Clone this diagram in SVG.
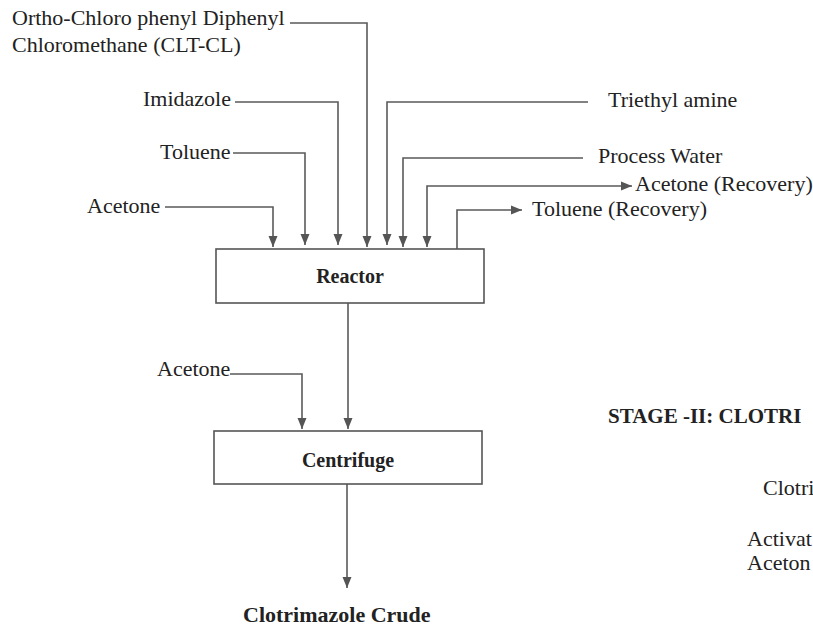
<svg xmlns="http://www.w3.org/2000/svg" width="813" height="630" viewBox="0 0 813 630">
<style>
.t{font-family:'Times New Roman','Liberation Serif',Times,serif;font-size:22px;font-weight:normal;fill:#222}
.b{font-family:'Times New Roman','Liberation Serif',Times,serif;font-weight:bold;fill:#222}
.box{fill:#fff;stroke:#555;stroke-width:1.6}
.c{fill:none;stroke:#5a5a5a;stroke-width:1.6}
</style>
<defs>
<marker id="ah" markerUnits="userSpaceOnUse" markerWidth="12" markerHeight="10" refX="11" refY="5" orient="auto">
<path d="M0,0.5 L11,5 L0,9.5 Z" fill="#555"/>
</marker>
</defs>
<rect width="813" height="630" fill="#fff"/>
<g id="connectors">
<path class="c" d="M165,207 H273 V247" marker-end="url(#ah)"/>
<path class="c" d="M233,153 H305 V245" marker-end="url(#ah)"/>
<path class="c" d="M235,102 H338 V245" marker-end="url(#ah)"/>
<path class="c" d="M290,23 H367 V247" marker-end="url(#ah)"/>
<path class="c" d="M588,102 H387 V245" marker-end="url(#ah)"/>
<path class="c" d="M583,158 H403 V247" marker-end="url(#ah)"/>
<path class="c" d="M427,190 V247" marker-end="url(#ah)"/>
<path class="c" d="M427,190 V186 H632" marker-end="url(#ah)"/>
<path class="c" d="M457,249 V210 H522" marker-end="url(#ah)"/>
<path class="c" d="M348,303 V429" marker-end="url(#ah)"/>
<path class="c" d="M230,374 H302 V429" marker-end="url(#ah)"/>
<path class="c" d="M347,484 V588" marker-end="url(#ah)"/>
</g>
<g id="reactor">
<rect class="box" x="216" y="249" width="268" height="54"/>
<text class="b" x="350" y="283" font-size="20" text-anchor="middle">Reactor</text>
</g>
<g id="centrifuge">
<rect class="box" x="214" y="431" width="268" height="53"/>
<text class="b" x="348" y="467" font-size="20" text-anchor="middle">Centrifuge</text>
</g>
<g id="clt">
<text class="t" x="12" y="25">Ortho-Chloro phenyl Diphenyl</text>
<text class="t" x="12" y="52">Chloromethane (CLT-CL)</text>
</g>
<g id="imidazole"><text class="t" x="143" y="106">Imidazole</text></g>
<g id="triethyl"><text class="t" x="608" y="107">Triethyl amine</text></g>
<g id="toluene"><text class="t" x="160" y="159">Toluene</text></g>
<g id="water"><text class="t" x="598" y="163">Process Water</text></g>
<g id="acetone-rec"><text class="t" x="635" y="191">Acetone (Recovery)</text></g>
<g id="toluene-rec"><text class="t" x="532" y="216">Toluene (Recovery)</text></g>
<g id="acetone1"><text class="t" x="87" y="213">Acetone</text></g>
<g id="acetone2"><text class="t" x="157" y="376">Acetone</text></g>
<g id="crude"><text class="b" x="243" y="622" font-size="22">Clotrimazole Crude</text></g>
<g id="stage2">
<text class="b" x="608" y="423" font-size="21">STAGE -II: CLOTRI</text>
<text class="t" x="763" y="495">Clotri</text>
<text class="t" x="747" y="546">Activat</text>
<text class="t" x="747" y="570">Aceton</text>
</g>
</svg>
